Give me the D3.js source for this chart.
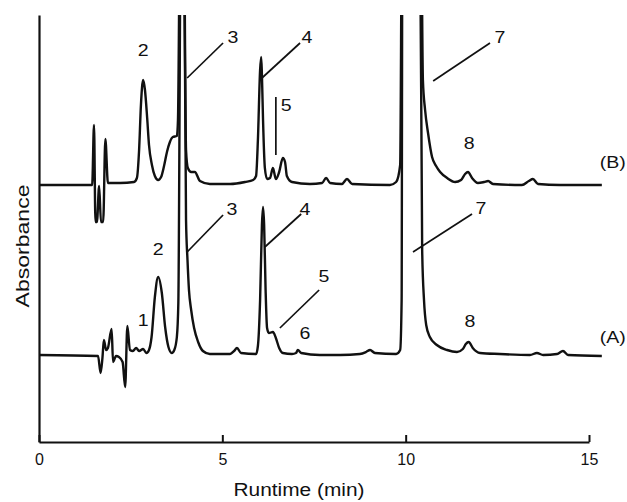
<!DOCTYPE html>
<html><head><meta charset="utf-8">
<script src="https://cdn.jsdelivr.net/npm/d3@7"></script>
<style>
body{margin:0;background:#fff}
text{font-family:"Liberation Sans",Arial,Helvetica,sans-serif;fill:#111}
</style>
</head><body>
<svg id="c" width="627" height="502"></svg>
<script>
// Trace (B): retention time (min) and absorbance (arbitrary units, offset trace)
const timeB = [0,1.45,1.50,1.54,1.58,1.64,1.69,1.75,1.81,1.88,2.21,2.59,2.67,2.73,2.78,2.84,2.89,2.95,3.00,3.08,3.16,3.25,3.33,3.41,3.49,3.57,3.65,3.76,3.79,3.85,3.95,4.01,4.06,4.15,4.25,4.39,4.66,5.21,5.62,5.84,5.92,5.97,6.03,6.06,6.08,6.11,6.16,6.22,6.30,6.38,6.46,6.55,6.65,6.71,6.76,6.90,7.39,7.72,7.83,7.94,8.26,8.40,8.54,9.57,9.74,9.85,9.90,10.42,10.47,10.53,10.61,10.72,10.83,10.94,11.13,11.35,11.51,11.62,11.70,11.81,11.97,12.14,12.25,12.38,13.17,13.36,13.47,13.61,14.21,15.35];
const absB = [257,257,317,220,220,256,220,220,303,259,259,260,264,292,337,362,352,324,297,277,266,262,265,276,290,300,305,306,322,522,522,292,274,270,270,261,258,258,260,262,266,302,372,385,367,322,274,263,264,274,263,270,284,280,266,260,258,259,264,259,258,263,258,257,260,277,522,522,362,332,309,285,276,270,264,260,262,268,270,264,259,260,261,258,257,261,263,258,257,257];

// Trace (A)
const timeA = [0,1.61,1.68,1.73,1.77,1.83,1.88,1.98,2.02,2.10,2.18,2.28,2.35,2.41,2.48,2.56,2.65,2.73,2.84,2.93,3.00,3.07,3.16,3.25,3.35,3.44,3.53,3.62,3.69,3.76,3.80,3.87,3.95,4.01,4.05,4.09,4.15,4.23,4.34,4.47,4.66,5.21,5.32,5.40,5.51,5.92,5.97,6.03,6.08,6.11,6.14,6.18,6.22,6.27,6.38,6.46,6.55,6.65,6.90,7.01,7.06,7.15,7.66,8.21,8.75,8.92,9.03,9.16,9.74,9.85,9.89,9.91,10.39,10.45,10.50,10.56,10.66,10.85,11.13,11.40,11.56,11.64,11.72,11.83,12.03,12.57,13.39,13.58,13.75,14.13,14.29,14.43,15.35];
const absA = [87,86,69,84,102,92,94,113,80,86,85,80,55,116,92,91,94,91,93,89,92,105,145,165,149,115,95,89,92,105,139,522,522,222,182,152,132,114,100,91,88,88,91,94,89,88,96,142,217,235,217,152,114,109,110,104,94,89,88,89,92,89,87,87,88,90,92,89,88,92,142,522,522,192,142,117,105,97,92,90,93,98,100,94,89,88,87,89,87,88,91,87,86];

// Axis ticks
const xTicks = [0,5,10,15];
const xTitle = "Runtime (min)";
const yTitle = "Absorbance";

// Peak labels
const annText = ["2","3","4","5","7","8","(B)","1","2","3","4","5","6","7","8","(A)"];
const annT    = [2.84,5.29,7.31,6.74,12.57,11.73,15.65,2.84,3.25,5.26,7.25,7.77,7.25,12.05,11.75,15.65];
const annV    = [392,405,405,337,405,299,280,122,193,233,233,166,109,234,121,105];

// Leader lines
const leadT1 = [5.02,7.12,6.46,12.30,5.02,7.15,7.64,11.81];
const leadV1 = [399,399,345,399,227,228,152,228];
const leadT2 = [4.04,6.08,6.46,10.75,4.04,6.16,6.57,10.20];
const leadV2 = [364,364,287,361,190,195,114,190];

const svg = d3.select("#c");
const x = d3.scaleLinear().domain([0,15]).range([39,589]);
const y = d3.scaleLinear().domain([0,427]).range([442,15]);

svg.append("clipPath").attr("id","clip")
  .append("rect").attr("x",x(0)).attr("y",y(427)).attr("width",620-x(0)).attr("height",y(0)-y(427));

const line = d3.line().x(d=>x(d[0])).y(d=>y(d[1])).curve(d3.curveMonotoneX);
const traces = [d3.zip(timeB,absB), d3.zip(timeA,absA)];
svg.append("g").attr("clip-path","url(#clip)")
  .selectAll("path").data(traces).join("path")
  .attr("d",line).attr("fill","none").attr("stroke","#111")
  .attr("stroke-width",2.4).attr("stroke-linejoin","round");

// axes
const xAxis = svg.append("g").attr("transform",`translate(0,${y(0)})`)
  .call(d3.axisBottom(x).tickValues(xTicks).tickSizeInner(-7).tickSizeOuter(0).tickPadding(12).tickFormat(d3.format("d")));
xAxis.select(".domain").attr("stroke","#111").attr("stroke-width",2.2);
xAxis.selectAll(".tick line").attr("stroke","#111").attr("stroke-width",2);
xAxis.selectAll(".tick text").attr("font-size",16).attr("font-family",'"Liberation Sans",Arial,sans-serif').attr("fill","#111");

const yAxis = svg.append("g").attr("transform",`translate(${x(0)},0)`)
  .call(d3.axisLeft(y).tickValues([]).tickSizeOuter(0));
yAxis.select(".domain").attr("stroke","#111").attr("stroke-width",2.2);

svg.append("text").attr("x",299).attr("y",496).attr("text-anchor","middle")
  .attr("font-size",18).attr("textLength",131).attr("lengthAdjust","spacingAndGlyphs").text(xTitle);
svg.append("text").attr("transform","translate(29,246) rotate(-90)").attr("text-anchor","middle")
  .attr("font-size",18).attr("textLength",123).attr("lengthAdjust","spacingAndGlyphs").text(yTitle);

// annotations
svg.append("g").selectAll("line").data(d3.range(leadT1.length)).join("line")
  .attr("x1",i=>x(leadT1[i])).attr("y1",i=>y(leadV1[i]))
  .attr("x2",i=>x(leadT2[i])).attr("y2",i=>y(leadV2[i]))
  .attr("stroke","#111").attr("stroke-width",1.7);

svg.append("g").selectAll("text").data(d3.range(annText.length)).join("text")
  .attr("transform",i=>`translate(${x(annT[i])},${y(annV[i])}) scale(1.15,1)`)
  .attr("text-anchor","middle").attr("dominant-baseline","central")
  .attr("font-size",17).text(i=>annText[i]);
</script>
</body></html>
